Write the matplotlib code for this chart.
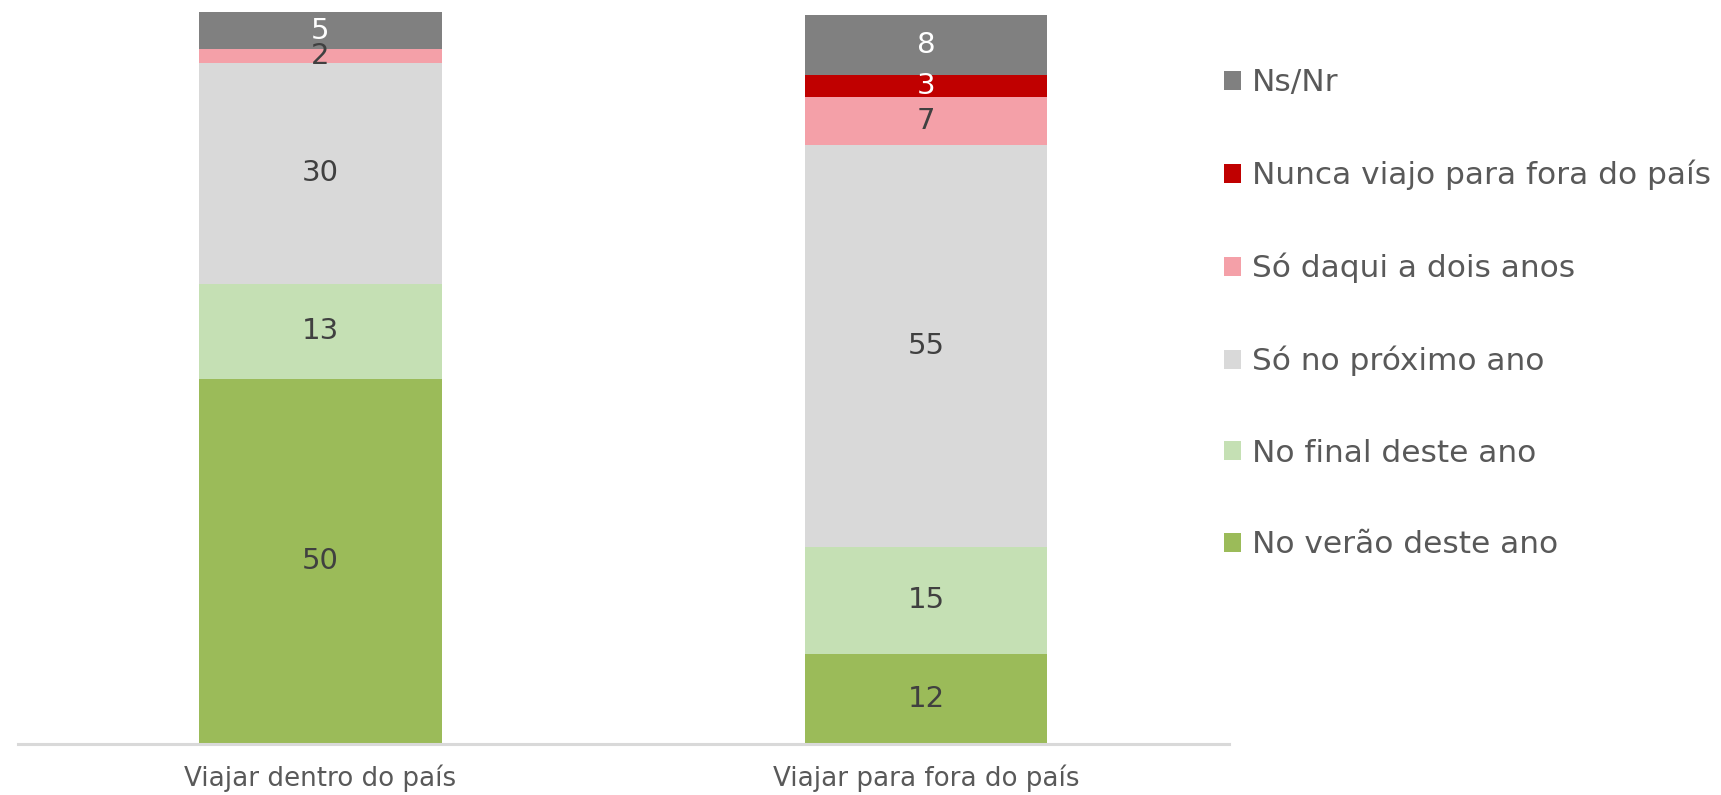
import numpy as np
import matplotlib
matplotlib.use('Agg')
import matplotlib.pyplot as plt

plt.rcParams['font.family'] = ['DejaVu Sans']

categories = ['Viajar dentro do país', 'Viajar para fora do país']
series = ['No verão deste ano', 'No final deste ano', 'Só no próximo ano',
          'Só daqui a dois anos', 'Nunca viajo para fora do país', 'Ns/Nr']
verao = [50, 12.3]
final = [13, 14.7]
proximo = [30.2, 55]
dois_anos = [1.9, 6.6]
nunca = [0, 3]
nsnr = [5, 8.1]
colors = ['#9BBB59', '#C5E0B4', '#D9D9D9', '#F4A0A8', '#C00000', '#808080']
label_colors = ['#404040', '#404040', '#404040', '#404040', 'white', 'white']

values = [verao, final, proximo, dois_anos, nunca, nsnr]

fig = plt.figure(figsize=(17.21, 7.95), dpi=100)
ax = fig.add_axes([0.0102, 0.0642, 0.704, 0.921])

x = np.arange(len(categories))
bottom = np.zeros(len(categories))
handles = []
for vals, name, c, lc in zip(values, series, colors, label_colors):
    vals = np.array(vals, dtype=float)
    b = ax.bar(x, vals, 0.40, bottom=bottom, color=c, label=name)
    handles.append(b)
    for xi, v, bt in zip(x, vals, bottom):
        if v > 0:
            ax.text(xi, bt + v / 2, '%.0f' % v, ha='center', va='center',
                    fontsize=21, color=lc)
    bottom += vals

ax.set_xlim(-0.5, 1.5)
ax.set_ylim(0, 100.2)
ax.set_yticks([])
ax.set_xticks(x)
ax.set_xticklabels(categories, fontsize=18.8, color='#595959')
ax.tick_params(axis='x', length=0, pad=15)
for s in ['top', 'right', 'left']:
    ax.spines[s].set_visible(False)
ax.spines['bottom'].set_color('#D9D9D9')
ax.spines['bottom'].set_linewidth(2.2)

leg = fig.legend(handles[::-1], series[::-1], loc='upper left',
                 bbox_to_anchor=(0.704, 0.930), frameon=False, fontsize=22.5,
                 labelspacing=2.0, handlelength=0.55, handleheight=0.55,
                 handletextpad=0.33, borderaxespad=0)
for t in leg.get_texts():
    t.set_color('#595959')

fig.savefig('out.png', dpi=100)
